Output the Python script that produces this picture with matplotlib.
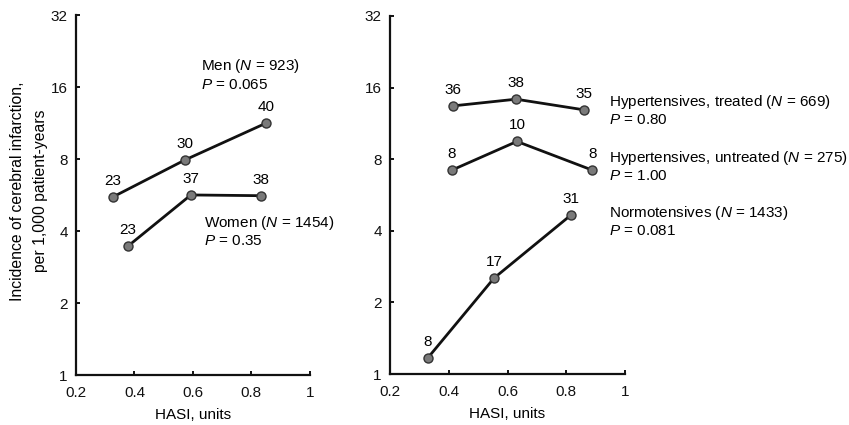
import matplotlib
matplotlib.use("Agg")
import matplotlib.pyplot as plt
from matplotlib.ticker import FixedLocator, FixedFormatter, NullLocator

plt.rcParams['font.family'] = ['Liberation Sans', 'DejaVu Sans']
plt.rcParams['mathtext.fontset'] = 'custom'
plt.rcParams['mathtext.it'] = 'Liberation Sans:italic'
plt.rcParams['mathtext.rm'] = 'Liberation Sans'

# ---- data ----
men_x = [0.326, 0.573, 0.850]
men_y = [5.55, 7.93, 11.3]
men_n = ["23", "30", "40"]

women_x = [0.378, 0.593, 0.832]
women_y = [3.46, 5.66, 5.62]
women_n = ["23", "37", "38"]

treated_x = [0.414, 0.629, 0.860]
treated_y = [13.4, 14.3, 12.9]
treated_n = ["36", "38", "35"]

untreated_x = [0.411, 0.632, 0.888]
untreated_y = [7.2, 9.5, 7.2]
untreated_n = ["8", "10", "8"]

normo_x = [0.329, 0.554, 0.816]
normo_y = [1.17, 2.53, 4.66]
normo_n = ["8", "17", "31"]

y_ticks = [1, 2, 4, 8, 16, 32]
x_ticks = [0.2, 0.4, 0.6, 0.8, 1.0]
x_ticklabels = ["0.2", "0.4", "0.6", "0.8", "1"]

fig = plt.figure(figsize=(8.49, 4.25), dpi=100)
ax1 = fig.add_axes([0.0895, 0.1176, 0.2755, 0.8471])
ax2 = fig.add_axes([0.4594, 0.1200, 0.2768, 0.8424])

FS = 11

def style(ax):
    ax.set_yscale('log', base=2)
    ax.set_ylim(1, 32)
    ax.set_xlim(0.2, 1.0)
    ax.yaxis.set_major_locator(FixedLocator(y_ticks))
    ax.yaxis.set_major_formatter(FixedFormatter([str(t) for t in y_ticks]))
    ax.yaxis.set_minor_locator(NullLocator())
    ax.xaxis.set_major_locator(FixedLocator(x_ticks))
    ax.xaxis.set_major_formatter(FixedFormatter(x_ticklabels))
    for s in ['top', 'right']:
        ax.spines[s].set_visible(False)
    for s in ['left', 'bottom']:
        ax.spines[s].set_linewidth(1.6)
        ax.spines[s].set_color('#111111')
    ax.tick_params(direction='in', length=3, width=1.4, labelsize=FS, colors='#111111')
    ax.tick_params(axis='x', pad=8)
    ax.tick_params(axis='y', pad=6)
    ax.set_xlabel("HASI, units", fontsize=FS, labelpad=6)
    ax.patch.set_alpha(0)

def series(ax, xs, ys, labels):
    ax.plot(xs, ys, color='#111111', lw=2.0, marker='o', ms=6.5,
            mfc='#7a7a7a', mec='#333333', mew=1.0, zorder=3, clip_on=False)
    for x, y, t in zip(xs, ys, labels):
        ax.annotate(t, (x, y), xytext=(0, 6.5), textcoords='offset points',
                    ha='center', va='bottom', fontsize=FS)

style(ax1)
style(ax2)

series(ax1, men_x, men_y, men_n)
series(ax1, women_x, women_y, women_n)

series(ax2, treated_x, treated_y, treated_n)
series(ax2, untreated_x, untreated_y, untreated_n)
series(ax2, normo_x, normo_y, normo_n)

fig.text(29 / 849, 1 - 191 / 425,
         "Incidence of cerebral infarction,\nper 1,000 patient-years",
         rotation=90, fontsize=11.3, ha='center', va='center',
         multialignment='center', linespacing=1.6)

# group labels (figure pixel positions)
def ftxt(px, py, s):
    fig.text(px / 849, 1 - py / 425, s, fontsize=FS, ha='left', va='center')

ftxt(201, 66, r"Men ($N$ = 923)")
ftxt(201, 85, r"$P$ = 0.065")
ftxt(204, 223, r"Women ($N$ = 1454)")
ftxt(204, 241, r"$P$ = 0.35")

ftxt(609, 102, r"Hypertensives, treated ($N$ = 669)")
ftxt(609, 120, r"$P$ = 0.80")
ftxt(609, 158, r"Hypertensives, untreated ($N$ = 275)")
ftxt(609, 176, r"$P$ = 1.00")
ftxt(609, 213, r"Normotensives ($N$ = 1433)")
ftxt(609, 231, r"$P$ = 0.081")

fig.savefig("out.png", dpi=100)
